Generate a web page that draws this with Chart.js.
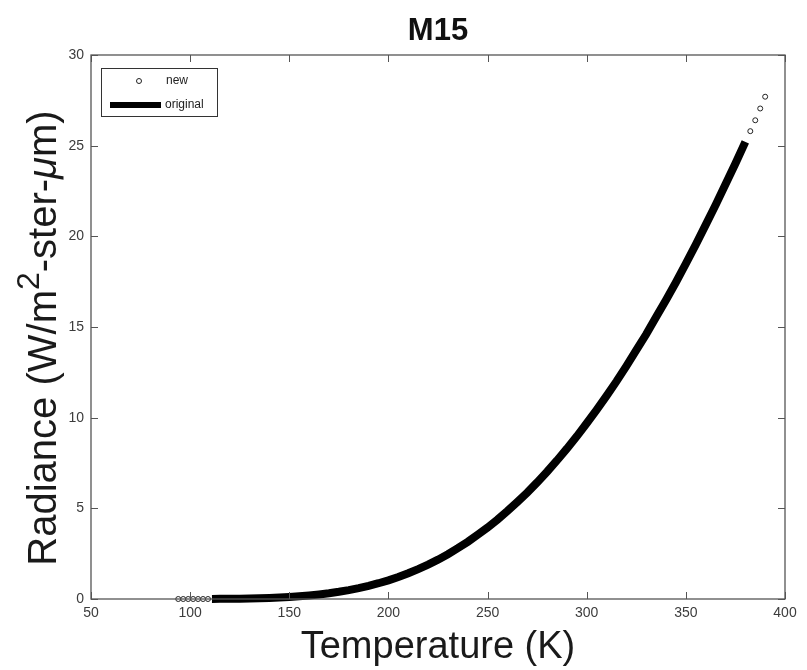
<!DOCTYPE html>
<html lang="en">
<head>
    <meta charset="UTF-8">
    <title>M15 Radiance</title>
    <script src="https://cdn.jsdelivr.net/npm/chart.js"></script>
    <style>
        body {
            margin: 0;
            padding: 0;
            background-color: #ffffff;
        }
        #wrap {
            width: 807px;
            height: 670px;
        }
    </style>
</head>
<body>
    <div id="wrap">
        <canvas id="radianceChart" width="807" height="670"></canvas>
    </div>

    <script>
        // "original" curve (K, W/m2-ster-um)
        const tempOriginal = [111, 115, 120, 125, 130, 135, 140, 145, 150, 155, 160, 165, 170, 175, 180, 185, 190, 195,
            200, 205, 210, 215, 220, 225, 230, 235, 240, 245, 250, 255, 260, 265, 270, 275, 280, 285, 290, 295,
            300, 305, 310, 315, 320, 325, 330, 335, 340, 345, 350, 355, 360, 365, 370, 375, 380];
        const radOriginal = [0.005, 0.007, 0.012, 0.019, 0.028, 0.041, 0.059, 0.082, 0.111, 0.148, 0.194, 0.25, 0.317, 0.397, 0.491, 0.6, 0.726, 0.87,
            1.03, 1.21, 1.42, 1.65, 1.9, 2.17, 2.47, 2.8, 3.15, 3.54, 3.94, 4.38, 4.85, 5.35, 5.87, 6.43, 7.02, 7.64, 8.29, 8.97,
            9.69, 10.43, 11.2, 12.0, 12.84, 13.72, 14.6, 15.55, 16.49, 17.47, 18.49, 19.54, 20.63, 21.73, 22.87, 24.02, 25.21];

        // "new" points (open circles)
        const tempNew = [94, 96.5, 99, 101.5, 104, 106.5, 109, 382.5, 385, 387.5, 390];
        const radNew = [0, 0, 0, 0, 0, 0, 0, 25.8, 26.4, 27.05, 27.7];

        const xTicks = [50, 100, 150, 200, 250, 300, 350, 400];
        const yTicks = [0, 5, 10, 15, 20, 25, 30];

        const FONT = "Arial, 'Liberation Sans', Helvetica, sans-serif";
        const AXIS_COLOR = '#555555';

        // y label with a raised 2 and an italic mu, drawn rotated
        function drawYTitle(ctx, cx, cy) {
            const size = 40;
            const parts = [
                { t: 'Radiance (W/m', f: size + 'px ' + FONT, dy: 0 },
                { t: '2', f: Math.round(size * 0.8) + 'px ' + FONT, dy: -15 },
                { t: '-ster-', f: size + 'px ' + FONT, dy: 0 },
                { t: 'μ', f: 'italic ' + size + 'px ' + FONT, dy: 0 },
                { t: 'm)', f: size + 'px ' + FONT, dy: 0 }
            ];
            let total = 0;
            parts.forEach(p => { ctx.font = p.f; p.w = ctx.measureText(p.t).width; total += p.w; });
            ctx.save();
            ctx.translate(cx, cy);
            ctx.rotate(-Math.PI / 2);
            ctx.fillStyle = '#1a1a1a';
            ctx.textAlign = 'left';
            ctx.textBaseline = 'middle';
            let x = -total / 2;
            parts.forEach(p => {
                ctx.font = p.f;
                ctx.fillText(p.t, x, p.dy);
                x += p.w;
            });
            ctx.restore();
        }

        // box around the plot, inward ticks, title and legend (MATLAB look)
        const framePlugin = {
            id: 'frame',
            afterDraw(chart) {
                const ctx = chart.ctx;
                const area = chart.chartArea;
                const xs = chart.scales.x;
                const ys = chart.scales.y;
                const tl = 7;

                ctx.save();
                ctx.strokeStyle = AXIS_COLOR;
                ctx.lineWidth = 1.3;
                ctx.strokeRect(area.left, area.top, area.right - area.left, area.bottom - area.top);

                ctx.lineWidth = 1;
                ctx.beginPath();
                xTicks.forEach(v => {
                    const px = Math.round(xs.getPixelForValue(v)) + 0.5;
                    ctx.moveTo(px, area.bottom);
                    ctx.lineTo(px, area.bottom - tl);
                    ctx.moveTo(px, area.top);
                    ctx.lineTo(px, area.top + tl);
                });
                yTicks.forEach(v => {
                    const py = Math.round(ys.getPixelForValue(v)) + 0.5;
                    ctx.moveTo(area.left, py);
                    ctx.lineTo(area.left + tl, py);
                    ctx.moveTo(area.right, py);
                    ctx.lineTo(area.right - tl, py);
                });
                ctx.stroke();

                // title
                ctx.fillStyle = '#111111';
                ctx.font = 'bold 31px ' + FONT;
                ctx.textAlign = 'center';
                ctx.textBaseline = 'middle';
                ctx.fillText('M15', (area.left + area.right) / 2, 31);

                drawYTitle(ctx, 45, 338);

                // legend
                const bx = 101, by = 68, bw = 116, bh = 48;
                ctx.fillStyle = '#ffffff';
                ctx.fillRect(bx, by, bw, bh);
                ctx.strokeStyle = '#333333';
                ctx.lineWidth = 1;
                ctx.strokeRect(bx + 0.5, by + 0.5, bw, bh);

                ctx.beginPath();
                ctx.arc(139, 81, 2.5, 0, Math.PI * 2);
                ctx.strokeStyle = '#222222';
                ctx.stroke();

                ctx.beginPath();
                ctx.moveTo(110, 105);
                ctx.lineTo(161, 105);
                ctx.lineWidth = 6;
                ctx.strokeStyle = '#000000';
                ctx.stroke();

                ctx.fillStyle = '#222222';
                ctx.font = '12px ' + FONT;
                ctx.textAlign = 'left';
                ctx.fillText('new', 166, 81);
                ctx.fillText('original', 165, 105);
                ctx.restore();
            }
        };

        const ctx = document.getElementById('radianceChart').getContext('2d');
        const radianceChart = new Chart(ctx, {
            type: 'scatter',
            data: {
                datasets: [
                    {
                        label: 'new',
                        data: tempNew.map((t, i) => ({ x: t, y: radNew[i] })),
                        pointStyle: 'circle',
                        pointRadius: 2.5,
                        pointBorderWidth: 1,
                        pointBorderColor: '#222222',
                        pointBackgroundColor: '#ffffff',
                        showLine: false,
                        clip: false
                    },
                    {
                        label: 'original',
                        data: tempOriginal.map((t, i) => ({ x: t, y: radOriginal[i] })),
                        showLine: true,
                        borderColor: '#000000',
                        borderWidth: 8,
                        borderCapStyle: 'butt',
                        pointRadius: 0,
                        tension: 0,
                        clip: false
                    }
                ]
            },
            options: {
                responsive: false,
                animation: false,
                layout: {
                    padding: { top: 55, right: 22, left: 0, bottom: 0 }
                },
                plugins: {
                    legend: { display: false },
                    title: { display: false },
                    tooltip: { enabled: false }
                },
                scales: {
                    x: {
                        type: 'linear',
                        min: 50,
                        max: 400,
                        afterFit: s => { s.height = 71; },
                        afterBuildTicks: s => { s.ticks = xTicks.map(v => ({ value: v })); },
                        grid: { display: false, drawTicks: false },
                        border: { display: false },
                        ticks: {
                            padding: 6,
                            color: '#3c3c3c',
                            font: { family: FONT, size: 14 }
                        },
                        title: {
                            display: true,
                            text: 'Temperature (K)',
                            color: '#1a1a1a',
                            padding: { top: 0, bottom: 0 },
                            font: { family: FONT, size: 38 }
                        }
                    },
                    y: {
                        type: 'linear',
                        min: 0,
                        max: 30,
                        afterFit: s => { s.width = 91; },
                        afterBuildTicks: s => { s.ticks = yTicks.map(v => ({ value: v })); },
                        grid: { display: false, drawTicks: false },
                        border: { display: false },
                        ticks: {
                            padding: 7,
                            color: '#3c3c3c',
                            font: { family: FONT, size: 14 }
                        }
                    }
                }
            },
            plugins: [framePlugin]
        });
    </script>
</body>
</html>
